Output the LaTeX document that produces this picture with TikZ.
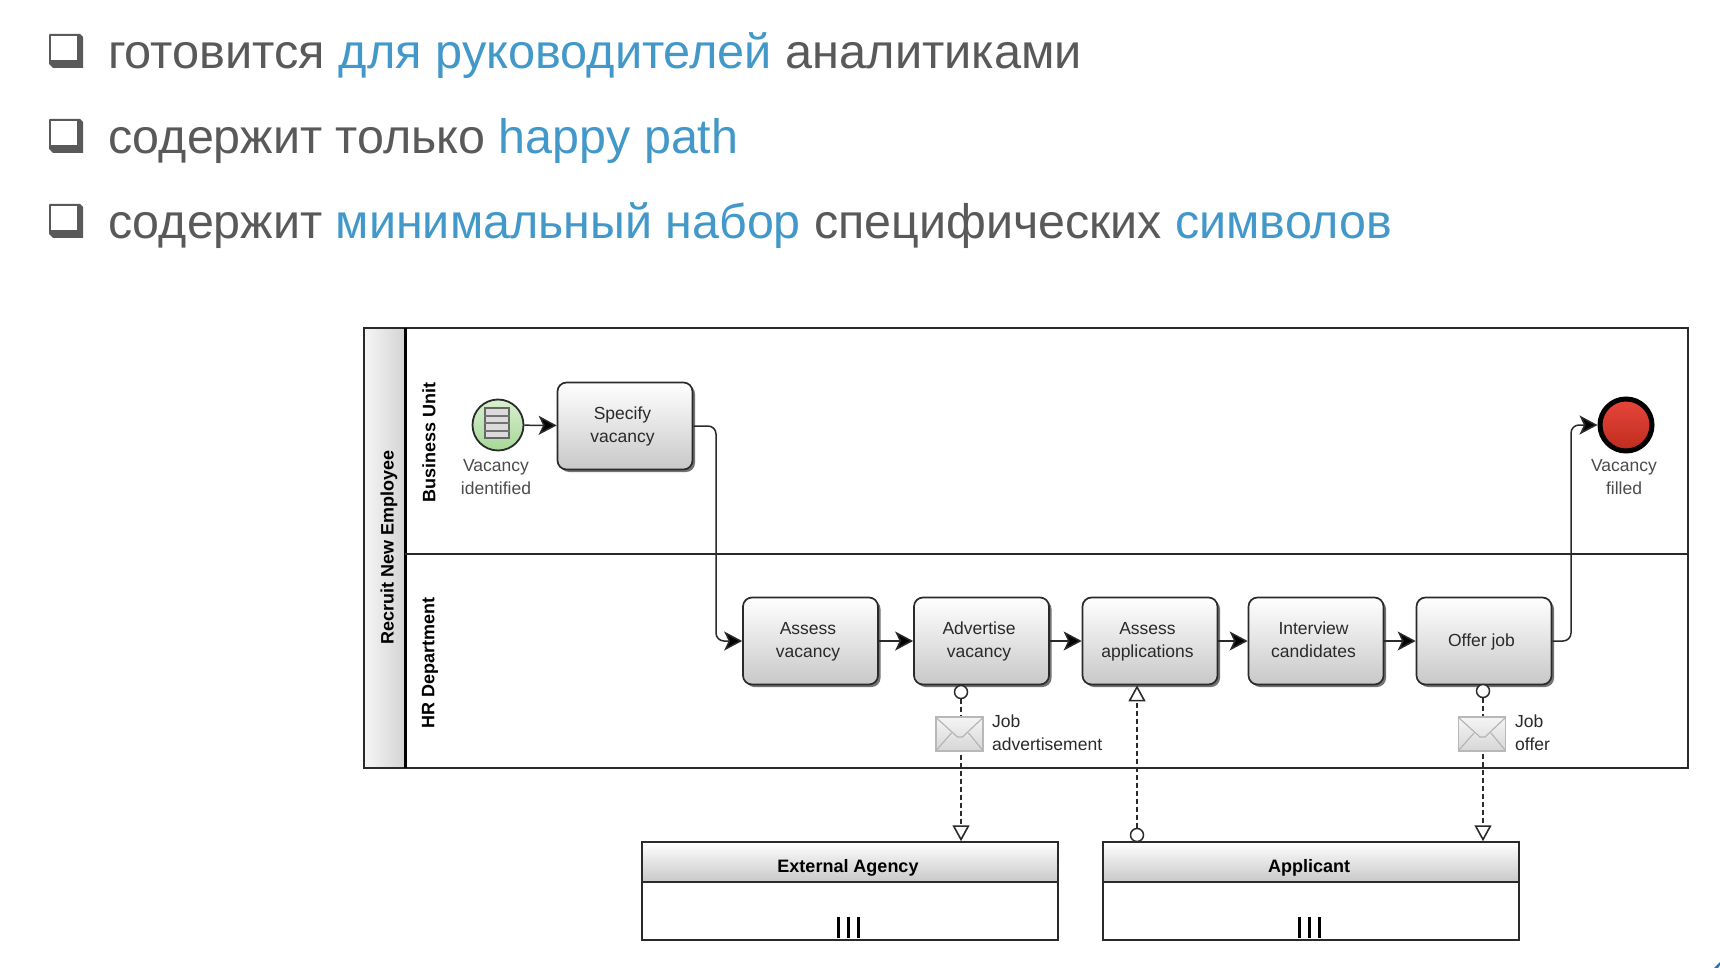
\documentclass[tikz,border=0pt]{standalone}
\usepackage{fontspec}
\usepackage{graphicx}
\setmainfont{Liberation Sans}
\usetikzlibrary{arrows.meta,shadows}
\definecolor{txtgray}{HTML}{595959}
\definecolor{txtblue}{HTML}{4298C9}
\definecolor{ink}{HTML}{2A2A2A}
\definecolor{boxlow}{HTML}{C8C8C8}
\definecolor{greenhi}{HTML}{D8EFCF}
\definecolor{greenlo}{HTML}{A6D897}
\definecolor{redhi}{HTML}{E8453B}
\definecolor{redlo}{HTML}{BE2C1E}
\definecolor{cornerblue}{HTML}{2A6DB0}
\newcommand\LL[1]{#1\hspace*{5pt}\rule[-6pt]{0pt}{22pt}}
\newcommand\envflaps[1]{%
  \draw[flap] ([shift={(-23,-16)}]#1.center) -- ([shift={(-2,3)}]#1.center) -- ([shift={(3,3)}]#1.center) -- ([shift={(23,-16)}]#1.center);
  \draw[flap] ([shift={(-23,16)}]#1.center) -- ([shift={(-8,-1)}]#1.center);
  \draw[flap] ([shift={(23,16)}]#1.center) -- ([shift={(9,-1)}]#1.center);
}
\tikzset{
  bullettext/.style={anchor=base west,inner sep=0pt,text=txtgray,font=\fontsize{48.4}{56}\selectfont},
  diag/.style={font=\fontsize{17.5}{23.5}\selectfont,text=ink,inner sep=0pt,align=center},
  taskbox/.style={draw=ink,line width=1.7pt,rounded corners=9pt,top color=white,bottom color=boxlow,
    minimum width=135pt,minimum height=87pt,inner sep=0pt,align=center,
    font=\fontsize{17.5}{23.5}\selectfont,text=ink,
    general shadow={shadow xshift=2.5pt,shadow yshift=-2.5pt,fill=black!55}},
  poolhead/.style={draw=ink,line width=1.5pt,top color=white,bottom color=boxlow,inner sep=0pt},
  lanelabel/.style={rotate=90,inner sep=0pt,font=\bfseries\fontsize{18}{22}\selectfont,text=black},
  flow/.style={draw=ink,line width=1.5pt,rounded corners=8pt,-{Stealth[length=18pt,width=19pt,inset=4.5pt,fill=black]}},
  msgflow/.style={draw=ink,line width=1.5pt,dash pattern=on 4.5pt off 3.5pt},
  dot/.style={circle,draw=ink,line width=1.5pt,fill=white,minimum size=13pt,inner sep=0pt},
  openhead/.style={-{Triangle[open,length=16pt,width=17pt,fill=white,line width=1.6pt]}},
  envelope/.style={draw=black!28,line width=1.2pt,top color=black!4,bottom color=black!16,minimum width=47pt,minimum height=34pt,inner sep=0pt},
  flap/.style={draw=black!30,line width=1.1pt},
  bar/.style={draw=black,line width=3pt},
}
\begin{document}
\begin{tikzpicture}[x=1pt,y=-1pt]
\useasboundingbox (0,0) rectangle (1720,968);
\fill[white] (0,0) rectangle (1720,968);
\fill[cornerblue] (1714,968) -- (1720,962) -- (1720,965) -- (1718,968) -- cycle;

% bullets
\foreach \yy in {34,119,204}{
  \fill[txtgray] (50,\yy) -- (80,\yy) -- (83,\yy+3) -- (83,\yy+34) -- (53,\yy+34) -- (49,\yy+30) -- (49,\yy+1) -- cycle;
  \fill[white] (51,\yy+2) rectangle (77,\yy+26);
}
\node[bullettext] (t1) at (108,69) {\scalebox{1.006}[1]{готовится \textcolor{txtblue}{для руководителей} аналитиками}};
\node[bullettext] (t2) at (108,154) {содержит только \textcolor{txtblue}{happy path}};
\node[bullettext] (t3) at (108,239) {содержит \textcolor{txtblue}{минимальный набор} специфических \textcolor{txtblue}{символов}};

% main pool
\node[draw=ink,line width=1.5pt,minimum width=1324pt,minimum height=440pt,inner sep=0pt,fill=white] (pool) at (1026,548) {};
\node[draw=none,left color=black!4,right color=black!17,minimum width=40pt,minimum height=439pt,inner sep=0pt] (hdr) at (385,548) {};
\draw[ink,line width=1.5pt] (364,328) rectangle (405,768);
\coordinate (hdrT) at (405,328);
\coordinate (hdrB) at (405,768);
\draw[black,line width=3pt] (hdrT) -- (hdrB);
\coordinate (laneL) at (405,554);
\draw[ink,line width=1.5pt] (laneL) -- (laneL -| pool.east);
\node[lanelabel] (l0) at (389,547.5) {Recruit New Employee};
\node[lanelabel] (l1) at (429,442.5) {Business Unit};
\node[lanelabel] (l2) at (430,663) {HR Department};

% events
\node[circle,draw=ink,line width=1.8pt,top color=greenhi,bottom color=greenlo,minimum size=51pt,inner sep=0pt] (start) at (498,425) {};
\node[draw=black!60,line width=1.5pt,fill=black!14,minimum width=24pt,minimum height=30pt,inner sep=0pt] (icon) at (497,423) {};
\draw[black!55,line width=1.3pt] (icon.west |- 0,416) coordinate (i1) -- (i1 -| icon.east);
\draw[black!55,line width=1.3pt] (icon.west |- 0,423) coordinate (i2) -- (i2 -| icon.east);
\draw[black!55,line width=1.3pt] (icon.west |- 0,431) coordinate (i3) -- (i3 -| icon.east);
\node[diag,text=black!70] (startlab) at (496,477) {Vacancy\\identified};

\node[circle,draw=black,line width=5pt,top color=redhi,bottom color=redlo,minimum size=52pt,inner sep=0pt] (end) at (1626,425) {};
\node[diag,text=black!70] (endlab) at (1624,477) {Vacancy\\filled};

% tasks
\node[taskbox] (spec) at (625,426) {\LL{Specify}\\\LL{vacancy}};
\node[taskbox] (av) at (810.5,641) {\LL{Assess}\\\LL{vacancy}};
\node[taskbox] (adv) at (981.5,641) {\LL{Advertise}\\\LL{vacancy}};
\node[taskbox] (aa) at (1150,641) {\LL{Assess}\\\LL{applications}};
\node[taskbox] (ic) at (1316,641) {\LL{Interview}\\\LL{candidates}};
\node[taskbox] (oj) at (1484,641) {\LL{Offer job}};

% flows
\coordinate (m1) at (716,554);
\coordinate (m2) at (1571,554);
\draw[flow] (start) -- (spec);
\draw[flow] (spec.east) -- (spec.east -| m1) -- (m1 |- av.west) -- (av.west);
\draw[flow] (av) -- (adv);
\draw[flow] (adv) -- (aa);
\draw[flow] (aa) -- (ic);
\draw[flow] (ic) -- (oj);
\draw[flow] (oj.east) -- (oj.east -| m2) -- (m2 |- end.west) -- (end.west);

% bottom pools
\node[draw=ink,line width=1.5pt,minimum width=416pt,minimum height=98pt,inner sep=0pt] (ext) at (850,891) {};
\node[poolhead,minimum width=416pt,minimum height=40pt] (exth) at (850,862) {};
\node[inner sep=0pt,font=\bfseries\fontsize{18}{22}\selectfont] (extl) at (848,868) {External Agency};
\node[draw=ink,line width=1.5pt,minimum width=416pt,minimum height=98pt,inner sep=0pt] (app) at (1311,891) {};
\node[poolhead,minimum width=416pt,minimum height=40pt] (apph) at (1311,862) {};
\node[inner sep=0pt,font=\bfseries\fontsize{18}{22}\selectfont] (appl) at (1309,868) {Applicant};
\foreach \xx in {838,848,858,1299,1309,1319}{
  \draw[bar] (\xx,917) -- (\xx,938);
}

% message flows
\node[dot] (c1) at (961,692) {};
\draw[msgflow,openhead] (c1) -- (c1 |- exth.north);
\node[envelope] (env1) at (959.5,734) {};
\envflaps{env1}
\node[anchor=base west,diag] (j1a) at (992,727) {Job};
\node[anchor=base west,diag] (j1b) at (992,750) {advertisement};

\node[dot] (c2) at (1137,835) {};
\draw[msgflow,openhead] (c2) -- (c2 |- aa.south);

\node[dot] (c3) at (1483,691) {};
\draw[msgflow,openhead] (c3) -- (c3 |- apph.north);
\node[envelope] (env3) at (1482,734) {};
\envflaps{env3}
\node[anchor=base west,diag] (j3a) at (1515,727) {Job};
\node[anchor=base west,diag] (j3b) at (1515,750) {offer};
\end{tikzpicture}
\end{document}
